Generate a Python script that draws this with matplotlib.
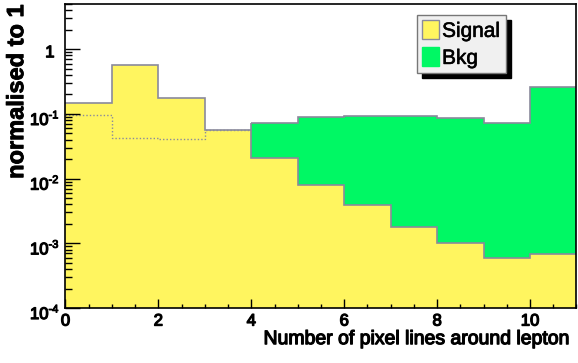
import numpy as np
import matplotlib.pyplot as plt
import matplotlib.patheffects as pe
from matplotlib.patches import Patch
from matplotlib.ticker import FixedLocator, LogLocator, NullFormatter

# narrow Helvetica-like face, thickened with a thin stroke
plt.rcParams['font.family'] = ['Liberation Sans Narrow', 'Liberation Sans', 'DejaVu Sans']
bold = [pe.withStroke(linewidth=0.9, foreground='black')]

# pixel lines around lepton, 11 unit bins
edges = np.arange(0, 12)
signal = [0.146, 0.58, 0.177, 0.057, 0.0207, 0.0081, 0.0039, 0.0018, 0.0010, 0.00060, 0.00068]
bkg = [0.095, 0.043, 0.041, 0.056, 0.0736, 0.090, 0.093, 0.092, 0.085, 0.073, 0.26]

yexps = [-4, -3, -2, -1, 0]
xticks = [0, 2, 4, 6, 8, 10]

c_sig = '#fff55f'
c_bkg = '#00f864'
c_line = '#8a8a9c'

fig = plt.figure(figsize=(5.78, 3.63), dpi=100)
ax = fig.add_axes([0.1133, 0.1515, 0.8841, 0.8375])

ax.set_yscale('log')
ax.stairs(bkg, edges, fill=True, baseline=1e-6, color=c_bkg, lw=0)
ax.stairs(signal, edges, fill=True, baseline=1e-6, color=c_sig, lw=0)
ax.stairs(signal, edges, baseline=None, color=c_line, lw=1.2)

# background outline: dotted under the signal, solid above it
ax.stairs(bkg[:4], edges[:5], baseline=None, color=c_line, lw=1.0, ls=(0, (1, 1.5)))
ax.stairs(bkg[4:], edges[4:], baseline=None, color=c_line, lw=1.2)
ax.vlines(edges[4], bkg[3], bkg[4], color=c_line, lw=1.2)

ax.set_xlim(0, 11)
ax.set_ylim(1e-4, 5)

ax.xaxis.set_major_locator(FixedLocator(xticks))
ax.xaxis.set_minor_locator(FixedLocator(np.arange(0, 11.01, 0.5)))
ax.yaxis.set_major_locator(FixedLocator([10.0 ** e for e in yexps]))
ax.yaxis.set_minor_locator(LogLocator(base=10, subs=np.arange(2, 10), numticks=20))
ax.yaxis.set_major_formatter(NullFormatter())
ax.yaxis.set_minor_formatter(NullFormatter())
ax.set_xticklabels([str(v) for v in xticks])

ax.tick_params(which='both', direction='in', top=False, right=False, width=1.0)
ax.tick_params(axis='x', which='major', length=6.7, labelsize=12, pad=4)
ax.tick_params(axis='x', which='minor', length=3.2)
ax.tick_params(axis='y', which='major', length=11)
ax.tick_params(axis='y', which='minor', length=5)
for lab in ax.get_xticklabels():
    lab.set_path_effects(bold)
for sp in ax.spines.values():
    sp.set_linewidth(1.2)

# decade labels: "10" with a raised exponent, plain "1" for 10^0
ycoords = ('axes fraction', 'data')
for e in yexps:
    v = 10.0 ** e
    if e == 0:
        t = ax.annotate('1', (0, v), xycoords=ycoords, xytext=(-11, -3.5),
                        textcoords='offset pixels', ha='right', va='center', fontsize=12)
        t.set_path_effects(bold)
        continue
    t = ax.annotate('10', (0, v), xycoords=ycoords, xytext=(-17, -6.5),
                    textcoords='offset pixels', ha='right', va='center', fontsize=12)
    t.set_path_effects(bold)
    s = ax.annotate('-%d' % -e, (0, v), xycoords=ycoords, xytext=(-17, 3.5),
                    textcoords='offset pixels', ha='left', va='top', fontsize=8)
    s.set_path_effects([pe.withStroke(linewidth=0.7, foreground='black')])

xl = ax.set_xlabel('Number of pixel lines around lepton', fontsize=14, ha='right')
xl.set_path_effects(bold)
ax.xaxis.set_label_coords(0.99, -0.076)
yl = ax.set_ylabel('normalised to 1', fontsize=17, loc='top', fontweight='bold',
                   family=['Liberation Sans', 'DejaVu Sans'])
yl.set_path_effects([pe.withStroke(linewidth=0.6, foreground='black')])
ax.yaxis.set_label_coords(-0.073, 1.0)

handles = [Patch(facecolor=c_sig, edgecolor=c_line, lw=1.0, label='Signal'),
           Patch(facecolor=c_bkg, edgecolor=c_bkg, lw=1.0, label='Bkg')]
leg = ax.legend(handles=handles, loc='upper left', bbox_to_anchor=(0.688, 0.964),
                borderaxespad=0, fontsize=15, handlelength=0.8, handleheight=1.05,
                handletextpad=0.15, labelspacing=0.3, borderpad=0.25,
                fancybox=False, framealpha=1,
                shadow={'ox': 3.6, 'oy': -3.6, 'facecolor': 'black', 'edgecolor': 'black', 'alpha': 1})
leg.get_frame().set_facecolor('#f0f0f0')
leg.get_frame().set_edgecolor('#777777')
leg.get_frame().set_linewidth(1.0)
for t in leg.get_texts():
    t.set_path_effects([pe.withStroke(linewidth=0.4, foreground='black')])

fig.savefig('out.png', dpi=100)
